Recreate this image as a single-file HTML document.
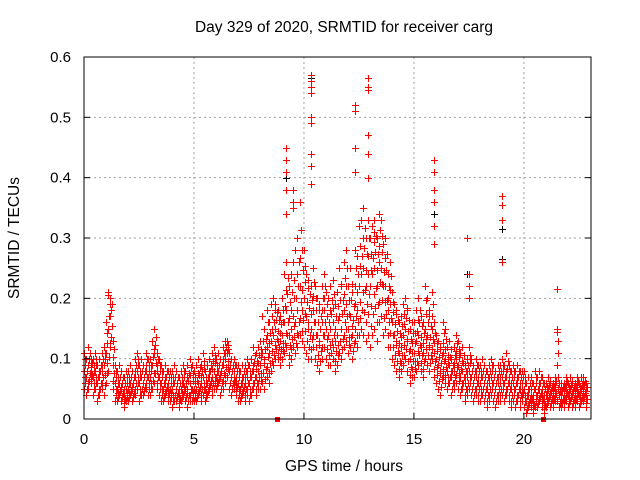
<!DOCTYPE html>
<html><head><meta charset="utf-8">
<style>
body{margin:0;background:#fff;}
svg{display:block;font-family:"Liberation Sans",sans-serif;}
</style></head>
<body>
<svg id="chart" width="640" height="480">
<text x="344" y="32" font-size="15.5" text-anchor="middle">Day 329 of 2020, SRMTID for receiver carg</text>
<text x="344" y="471" font-size="15.5" text-anchor="middle">GPS time / hours</text>
<text x="19" y="238" font-size="15.5" text-anchor="middle" transform="rotate(-90 19 238)">SRMTID / TECUs</text>
<g id="grid"></g><g id="marks" shape-rendering="crispEdges"></g><g id="axes"></g>
</svg>
<script>
const xTicks=[0,5,10,15,20];
const yTicks=[0,0.1,0.2,0.3,0.4,0.5,0.6];
const binWidth=0.1;
const lo=[5,4,5,6,4,5,3,4,5,4, 6,8,12,5,3,3,4,3,2,3, 3,4,3,4,5,3,4,4,5,4, 4,5,6,5,4,3,3,4,3,3, 2,3,3,2,3,4,3,2,3,3, 3,3,4,3,4,3,4,5,4,5, 5,6,4,5,6,7,5,4,5,4, 3,3,4,3,4,3,4,5,4,5, 5,6,5,7,6,8,9,10,10,9, 10,11,12,9,10,12,11,12,14,13, 12,11,10,10,12,10,9,8,10,12, 10,9,9,10,8,9,11,10,12,13, 11,12,10,13,12,14,15,14,13,14, 12,14,15,13,16,17,14,15,12,12, 10,9,8,7,8,9,10,8,6,7, 7,8,9,8,7,10,9,8,10,7, 6,5,4,7,6,5,6,4,5,6, 5,4,5,3,4,5,4,3,4,3, 3,4,3,2,3,4,3,2,3,3, 4,3,4,3,2,3,2,3,2,3, 2,1,2,2,1,2,2,3,2,1, 2,3,2,2,3,3,2,2,2,3, 2,3,2,2,3,2,3,3,2];
const mid=[8,7,9,8,7,8,6,7,8,9, 11,15,17,9,6,5,6,5,4,5, 5,6,5,7,8,6,7,6,8,7, 7,9,11,8,7,6,5,6,5,5, 5,6,5,4,5,6,5,5,6,5, 5,5,6,6,7,5,6,7,7,8, 7,8,7,9,10,11,8,7,7,6, 6,5,6,6,7,6,7,8,7,8, 9,11,10,12,11,13,14,15,13,13, 14,16,18,14,15,17,16,18,22,18, 20,17,16,15,18,16,14,13,16,18, 15,14,15,16,13,14,17,15,18,19, 15,17,14,19,18,22,24,25,22,24, 22,24,25,22,26,25,22,22,18,19, 16,14,13,11,12,14,15,13,10,11, 11,13,14,12,11,15,14,12,15,11, 10,9,8,11,10,8,9,7,8,10, 9,7,8,6,7,8,7,6,7,6, 6,7,6,5,6,7,6,5,6,6, 7,6,7,6,5,6,5,6,5,5, 5,3,4,4,3,5,4,5,4,3, 4,5,4,4,5,9,4,4,4,5, 4,5,4,4,5,4,5,5,4];
const hi=[11,10,12,10,10,11,9,10,11,12, 16,21,20,13,9,8,9,8,7,8, 8,9,8,10,11,9,10,9,11,10, 10,13,15,11,10,9,8,9,8,8, 8,9,8,7,8,9,8,9,10,9, 8,9,10,9,11,8,9,10,11,12, 10,11,10,12,13,13,11,10,10,9, 9,8,9,9,10,9,10,12,11,12, 13,17,15,18,16,19,20,19,18,17, 20,24,26,22,24,26,28,30,36,28, 28,24,23,22,25,22,20,19,22,24, 21,20,22,23,19,21,25,22,26,28, 22,25,21,28,27,32,33,35,30,33, 30,32,33,30,34,33,29,30,24,26, 21,19,18,16,17,19,20,18,15,16, 16,18,20,17,16,22,20,17,21,16, 14,13,12,16,15,12,13,10,12,14, 13,11,12,9,10,12,10,9,10,9, 9,10,9,8,9,10,9,8,9,9, 10,9,11,9,8,9,8,9,8,8, 8,6,7,7,6,8,7,8,7,6, 6,7,6,6,7,15,6,6,6,7, 6,7,6,6,7,6,7,7,6];
const spikeT=[9.2,9.2,9.2,9.2,9.2,9.5,9.5,9.5,10.3,10.3,10.3,10.3,10.3,10.3,10.3,10.3,10.3,12.3,12.3,12.3,12.3,12.9,12.9,12.9,12.9,12.9,12.9,15.9,15.9,15.9,15.9,15.9,15.9,17.4,17.5,17.5,17.5,19.0,19.0,19.0,19.0,21.5,21.5,21.5,1.1,1.1,13.2,13.2];
const spikeV=[0.45,0.43,0.41,0.38,0.34,0.38,0.36,0.35,0.57,0.56,0.55,0.54,0.50,0.49,0.44,0.42,0.39,0.52,0.51,0.45,0.41,0.565,0.55,0.545,0.47,0.44,0.40,0.43,0.41,0.38,0.36,0.32,0.29,0.30,0.24,0.22,0.20,0.37,0.355,0.33,0.26,0.215,0.15,0.145,0.21,0.205,0.33,0.31];
const blackT=[9.2,10.3,15.9,19.0,19.0,17.4];
const blackV=[0.40,0.565,0.34,0.315,0.265,0.24];
const gapT=[8.8,20.9];

const L=84,R=591,T=57,B=419,XMAX=23.05;
const X=t=>L+(t/XMAX)*(R-L);
const Y=v=>B-(v/0.6)*(B-T);
const NS='http://www.w3.org/2000/svg';
function mk(tag,attrs,parent){const e=document.createElementNS(NS,tag);for(const k in attrs)e.setAttribute(k,attrs[k]);parent.appendChild(e);return e;}
const grid=document.getElementById('grid'),marks=document.getElementById('marks'),axes=document.getElementById('axes');
xTicks.forEach(t=>{
  if(t>0){const g=mk('line',{x1:X(t),x2:X(t),y1:T,y2:B,stroke:'#a0a0a0','stroke-dasharray':'2,3'},grid);
  
  }
  const tk=mk('line',{x1:X(t),x2:X(t),y1:B,y2:B-6,stroke:'#000'},axes);
  
  
  const lb=mk('text',{x:X(t),y:B+25,'font-size':15,'text-anchor':'middle'},axes);lb.textContent=t;
  
  
});
yTicks.forEach(v=>{
  if(v>0&&v<0.6){const g=mk('line',{x1:L,x2:R,y1:Y(v),y2:Y(v),stroke:'#a0a0a0','stroke-dasharray':'2,3'},grid);
  
  }
  const tk=mk('line',{x1:L,x2:L+6,y1:Y(v),y2:Y(v),stroke:'#000'},axes);
  
  
  const tk2=mk('line',{x1:R,x2:R-6,y1:Y(v),y2:Y(v),stroke:'#000'},axes);
  
  
  const lb=mk('text',{x:L-13,y:Y(v)+5,'font-size':15,'text-anchor':'end'},axes);lb.textContent=String(v);
  
  
});
const frame=mk('rect',{x:L,y:T,width:R-L,height:B-T,fill:'none',stroke:'#000'},axes);


function cross(t,v,col){
  const x=Math.round(X(t)),y=Math.round(Y(v));
  const g=mk('g',{fill:col},marks);
  
  
  mk('rect',{x:x-3,y:y,width:7,height:1},g);
  mk('rect',{x:x,y:y-3,width:1,height:7},g);
}
blackT.forEach((t,i)=>cross(t,blackV[i],'#000000'));
for(let i=0;i<mid.length;i++){
  const t=i*binWidth;
  const a=lo[i]/100,m=mid[i]/100,h=hi[i]/100;
  const vals=[a,(2*a+m)/3,(a+2*m)/3,m,(2*m+h)/3,(m+2*h)/3,h];
  vals.forEach((v,k)=>cross(t+(k%3)*0.033,v,'#ff0000'));
}
spikeT.forEach((t,i)=>cross(t,spikeV[i],'#ff0000'));
gapT.forEach(t=>{
  const r=mk('rect',{x:X(t)-2.5,y:B-2,width:5,height:5,fill:'#ff0000'},marks);
  
  
});
</script>
</body></html>
